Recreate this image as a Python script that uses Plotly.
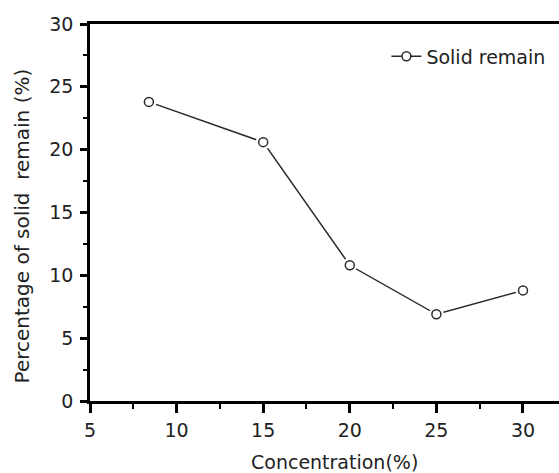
import plotly.graph_objects as go

concentration = [8.4, 15, 20, 25, 30]
solid_remain = [23.8, 20.6, 10.8, 6.9, 8.8]
series_name = "Solid remain"
x_title = "Concentration(%)"
y_title = "Percentage of solid  remain (%)"
x_ticks = [5, 10, 15, 20, 25, 30]
y_ticks = [0, 5, 10, 15, 20, 25, 30]

FONT = "DejaVu Sans"
INK = "#222222"
LINE = "#2a2a2a"

fig = go.Figure()
fig.add_trace(go.Scatter(
    x=concentration, y=solid_remain, mode="lines+markers", name=series_name,
    line=dict(color=LINE, width=1.5),
    marker=dict(symbol="circle", size=9, color="white", line=dict(color=LINE, width=1.5)),
    showlegend=True,
))
# white halo to create gaps between line and markers
fig.add_trace(go.Scatter(
    x=concentration, y=solid_remain, mode="markers", showlegend=False, hoverinfo="skip",
    marker=dict(symbol="circle", size=15, color="white", line=dict(width=0)),
))
fig.add_trace(go.Scatter(
    x=concentration, y=solid_remain, mode="markers", showlegend=False,
    marker=dict(symbol="circle", size=9, color="white", line=dict(color=LINE, width=1.5)),
))

fig.update_layout(
    width=559, height=473,
    margin=dict(l=90, r=0, t=24, b=72),
    paper_bgcolor="white", plot_bgcolor="white",
    font=dict(family=FONT, size=19, color=INK),
    legend=dict(x=0.632, y=0.914, xanchor="left", yanchor="middle",
                bgcolor="rgba(0,0,0,0)", font=dict(size=19, color=INK)),
    annotations=[
        dict(text=x_title, xref="paper", yref="paper", x=0.522, y=0, yshift=-61,
             xanchor="center", yanchor="middle", showarrow=False,
             font=dict(family=FONT, size=19, color=INK)),
        dict(text=y_title, xref="paper", yref="paper", x=0, xshift=-68, y=0.463,
             xanchor="center", yanchor="middle", textangle=-90, showarrow=False,
             font=dict(family=FONT, size=20, color=INK)),
    ],
)

fig.update_xaxes(
    range=[5, 32.08], tickvals=x_ticks, ticks="outside", ticklen=9, tickwidth=2.5,
    tickcolor="black", showline=True, linewidth=2.5, linecolor="black", mirror=True,
    showgrid=False, zeroline=False, ticklabelstandoff=1,
    minor=dict(dtick=2.5, tick0=5, ticks="outside", ticklen=5, tickwidth=2, tickcolor="black", showgrid=False),
)
fig.update_yaxes(
    range=[0, 30], tickvals=y_ticks, ticks="outside", ticklen=7, tickwidth=2.5,
    tickcolor="black", showline=True, linewidth=2.5, linecolor="black",
    showgrid=False, zeroline=False, ticklabelstandoff=3,
    minor=dict(dtick=2.5, tick0=0, ticks="outside", ticklen=4, tickwidth=2, tickcolor="black", showgrid=False),
)

fig.write_html("out.html",
               config={"displayModeBar": False},
               post_script="document.body.style.margin='0px';document.body.style.overflow='hidden';")
